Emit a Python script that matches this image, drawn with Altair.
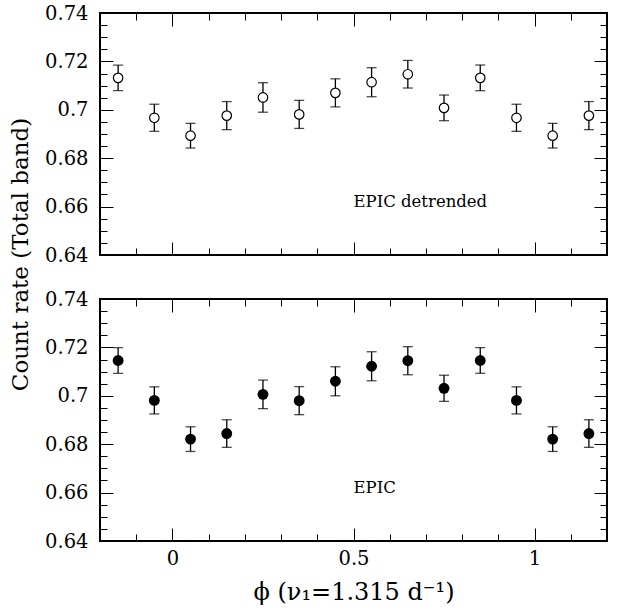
import altair as alt
import pandas as pd

# ---- data ----
phase = [-0.15, -0.05, 0.05, 0.15, 0.25, 0.35, 0.45, 0.55, 0.65, 0.75, 0.85, 0.95, 1.05, 1.15]

rate_detrended = [0.7132, 0.6967, 0.6893, 0.6976, 0.7051, 0.6981, 0.7070,
                  0.7114, 0.7147, 0.7008, 0.7132, 0.6967, 0.6893, 0.6976]
err_detrended = [0.0053, 0.0056, 0.0051, 0.0058, 0.0061, 0.0058, 0.0058,
                 0.0060, 0.0057, 0.0053, 0.0053, 0.0056, 0.0051, 0.0058]

rate_epic = [0.7146, 0.6981, 0.6821, 0.6844, 0.7006, 0.6980, 0.7060,
             0.7122, 0.7145, 0.7031, 0.7146, 0.6981, 0.6821, 0.6844]
err_epic = [0.0053, 0.0056, 0.0051, 0.0057, 0.0059, 0.0058, 0.0060,
            0.0060, 0.0058, 0.0054, 0.0053, 0.0056, 0.0051, 0.0057]

# tick values
x_major = [0, 0.5, 1]
x_minor = [-0.1, 0.1, 0.2, 0.3, 0.4, 0.6, 0.7, 0.8, 0.9, 1.1]
y_major = [0.64, 0.66, 0.68, 0.70, 0.72, 0.74]
y_minor = [0.645, 0.65, 0.655, 0.665, 0.67, 0.675, 0.685, 0.69, 0.695,
           0.705, 0.71, 0.715, 0.725, 0.73, 0.735]

FONT = "DejaVu Serif"
W, H = 507, 242
MAJ, MIN = 13, 7

xs = alt.Scale(domain=[-0.2, 1.2], nice=False, zero=False)
ys = alt.Scale(domain=[0.64, 0.74], nice=False, zero=False)


def ax(orient, values, size, labels=False, fmt="~g", **kw):
    return alt.Axis(orient=orient, values=values, tickSize=size, offset=-size,
                    domain=False, grid=False, labels=labels, ticks=True,
                    tickColor="black", tickWidth=1, format=fmt,
                    labelFont=FONT, labelFontSize=19.5, labelColor="black",
                    labelFlush=False, **kw)


def panel(rates, errs, filled, label, bottom_labels, y_title):
    df = pd.DataFrame({"phase": phase, "rate": rates, "err": errs})
    base = alt.Chart(df).transform_calculate(
        lo="datum.rate - datum.err", hi="datum.rate + datum.err")

    if y_title:
        ymaj = ax("left", y_major, MAJ, labels=True, fmt=".2~f", labelPadding=12,
                  title="Count rate (Total band)", titleFont=FONT, titleFontSize=23,
                  titleFontWeight="normal", titleColor="black",
                  titleX=-93, titleY=241, titleAngle=-90, titleAlign="center",
                  titleBaseline="middle")
    else:
        ymaj = ax("left", y_major, MAJ, labels=True, fmt=".2~f", labelPadding=12,
                  title=None)
    if bottom_labels:
        xmaj = ax("bottom", x_major, MAJ, labels=True, labelPadding=8,
                  title="\u03d5  (\u03bd\u2081=1.315  d\u207b\u00b9)", titleFont=FONT,
                  titleFontSize=24, titleFontWeight="normal", titleColor="black",
                  titlePadding=13)
    else:
        xmaj = ax("bottom", x_major, MAJ, title=None)

    rules = base.mark_rule(color="black", strokeWidth=1.3).encode(
        x=alt.X("phase:Q", scale=xs, axis=xmaj),
        y=alt.Y("lo:Q", scale=ys, axis=ymaj),
        y2="hi:Q",
    )
    cap_lo = base.mark_tick(orient="horizontal", size=10, thickness=1.3,
                            color="black").encode(
        x=alt.X("phase:Q", scale=xs, axis=ax("bottom", x_minor, MIN, title=None)),
        y=alt.Y("lo:Q", scale=ys, axis=ax("left", y_minor, MIN, title=None)),
    )
    cap_hi = base.mark_tick(orient="horizontal", size=10, thickness=1.3,
                            color="black").encode(
        x=alt.X("phase:Q", scale=xs, axis=ax("top", x_major, MAJ, title=None)),
        y=alt.Y("hi:Q", scale=ys, axis=ax("right", y_major, MAJ, title=None)),
    )
    if filled:
        pts_mark = base.mark_point(shape="circle", filled=True, color="black",
                                   size=118, opacity=1)
    else:
        pts_mark = base.mark_point(shape="circle", filled=False, fill="white",
                                   fillOpacity=1, stroke="black", strokeWidth=1.2,
                                   size=90, opacity=1)
    pts = pts_mark.encode(
        x=alt.X("phase:Q", scale=xs, axis=ax("top", x_minor, MIN, title=None)),
        y=alt.Y("rate:Q", scale=ys, axis=ax("right", y_minor, MIN, title=None)),
    )
    txt = alt.Chart(pd.DataFrame({"label": [label]})).mark_text(
        font=FONT, fontSize=16.5, align="left", baseline="middle", color="black"
    ).encode(
        x=alt.XDatum(0.5, type="quantitative", scale=xs, axis=None),
        y=alt.YDatum(0.662, type="quantitative", scale=ys, axis=None),
        text="label:N",
    )
    return alt.layer(rules, cap_lo, cap_hi, pts, txt).resolve_axis(
        x="independent", y="independent"
    ).properties(width=W, height=H)


top = panel(rate_detrended, err_detrended, False, "EPIC detrended", False, True)
bottom = panel(rate_epic, err_epic, True, "EPIC", True, False)

chart = alt.vconcat(top, bottom, spacing=44, bounds="flush").properties(
    padding={"left": 8, "top": 2, "right": 5, "bottom": 5},
    background="white",
).configure_view(stroke="black", strokeWidth=2)

chart.save("out.html", embed_options={"renderer": "svg", "actions": False})
